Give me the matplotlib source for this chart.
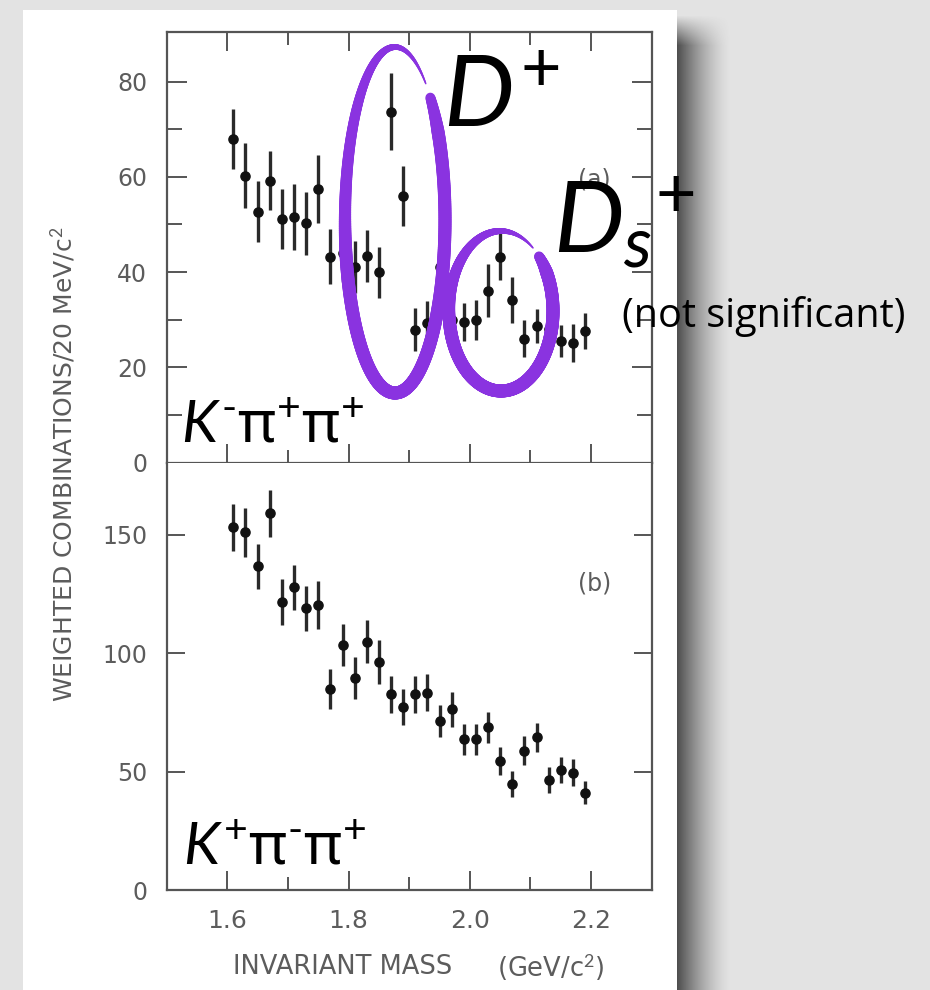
import numpy as np
import matplotlib.pyplot as plt
from matplotlib.patches import Rectangle
from matplotlib.collections import LineCollection

plt.rcParams['mathtext.fontset'] = 'custom'
plt.rcParams['mathtext.rm'] = 'Lato'
plt.rcParams['mathtext.it'] = 'Lato:italic'
plt.rcParams['mathtext.sf'] = 'Noto Sans'

# bin centres, 20 MeV bins (GeV/c^2)
mass = [1.61, 1.63, 1.65, 1.67, 1.69, 1.71, 1.73, 1.75, 1.77, 1.79,
        1.81, 1.83, 1.85, 1.87, 1.89, 1.91, 1.93, 1.95, 1.97, 1.99,
        2.01, 2.03, 2.05, 2.07, 2.09, 2.11, 2.13, 2.15, 2.17, 2.19]

# (a) K- pi+ pi+
top_counts = [68.0, 60.2, 52.7, 59.2, 51.1, 51.6, 50.2, 57.4, 43.2, 44.0,
              41.1, 43.4, 39.9, 73.7, 55.9, 27.9, 29.2, 41.1, 30.0, 29.5,
              29.9, 36.1, 43.2, 34.1, 26.0, 28.7, 28.0, 25.5, 25.1, 27.6]
top_err = [6.3, 6.8, 6.4, 6.2, 6.3, 6.9, 6.6, 7.1, 5.8, 6.0,
           5.5, 5.5, 5.4, 8.0, 6.3, 4.5, 4.8, 4.9, 5.0, 4.0,
           4.2, 5.5, 4.9, 4.9, 3.9, 3.6, 4.0, 3.4, 3.9, 3.8]

# (b) K+ pi- pi+
bottom_counts = [153.0, 150.9, 136.7, 158.9, 121.6, 127.7, 118.8, 120.3, 84.8, 103.4,
                 89.6, 104.8, 96.3, 82.6, 77.3, 82.6, 83.3, 71.4, 76.2, 63.6,
                 63.6, 68.6, 54.6, 44.7, 58.8, 64.4, 46.4, 50.6, 49.5, 41.1]
bottom_err = [10.1, 10.2, 9.5, 9.8, 9.6, 9.4, 9.5, 10.0, 8.3, 9.0,
              8.9, 9.1, 9.4, 7.7, 7.7, 7.9, 7.9, 6.7, 7.4, 6.6,
              6.6, 6.7, 5.9, 5.6, 6.0, 6.0, 5.6, 5.6, 5.6, 4.9]

x_major = [1.6, 1.8, 2.0, 2.2]
x_minor = [1.7, 1.9, 2.1]
x_labels = ['1.6', '1.8', '2.0', '2.2']

grey = '#5c5c5c'
purple = '#8a33e0'

fig = plt.figure(figsize=(9.3, 9.9), dpi=100)
fig.patch.set_facecolor('#e3e3e3')

# background: the "paper" and its shadow, in pixel coords
bg = fig.add_axes([0, 0, 1, 1], zorder=0)
gx = np.linspace(1, 0, 55) ** 1.5
gy = np.clip(np.linspace(0, 1, 975) * 975 / 30, 0, 1)
sh = np.zeros((975, 55, 4))
sh[..., :3] = 0.2
sh[..., 3] = 0.85 * gy[:, None] * gx[None, :]
bg.imshow(sh, extent=(677, 732, 990, 15), aspect='auto', interpolation='bilinear')
bg.add_patch(Rectangle((23, 10), 654, 990, facecolor='white', edgecolor='none', zorder=3))
bg.set_xlim(0, 930)
bg.set_ylim(990, 0)
bg.axis('off')

ax1 = fig.add_axes([0.1792, 0.5328, 0.5216, 0.4349], zorder=1)
ax2 = fig.add_axes([0.1792, 0.1010, 0.5216, 0.4318], zorder=1)

for ax, y, e in [(ax1, top_counts, top_err), (ax2, bottom_counts, bottom_err)]:
    ax.errorbar(mass, y, yerr=e, fmt='o', color='#111111', ms=6.6,
                ecolor='#2a2a2a', elinewidth=2.4, capsize=0)
    ax.set_xlim(1.5, 2.3)
    ax.set_xticks(x_major)
    ax.set_xticks(x_minor, minor=True)
    for s in ax.spines.values():
        s.set_color('#555555')
        s.set_linewidth(1.6)
    ax.tick_params(which='both', direction='in', color='#555555', width=1.4,
                   labelsize=17, labelcolor=grey)
    ax.tick_params(axis='x', which='major', length=13.5)
    ax.tick_params(axis='x', which='minor', length=9.5)
    ax.tick_params(axis='y', which='both', left=True, right=True, pad=14)

ax1.set_ylim(0, 90.4)
ax1.set_yticks([0, 20, 40, 60, 80])
ax1.set_yticks([10, 30, 50, 70], minor=True)
ax1.tick_params(axis='y', which='major', length=14.4)
ax1.tick_params(axis='y', which='minor', length=10.8)
ax1.tick_params(axis='x', which='both', top=True, bottom=True, labelbottom=False)
ax1.text(2.205, 59.5, '(a)', fontsize=17, color=grey, ha='center', va='center')

ax2.set_ylim(0, 180.4)
ax2.set_yticks([0, 50, 100, 150])
ax2.tick_params(axis='y', which='major', length=13)
ax2.tick_params(axis='x', which='both', top=False, bottom=True, pad=14, labelsize=18)
ax2.set_xticklabels(x_labels)
ax2.spines['top'].set_visible(False)
ax2.text(2.205, 129.5, '(b)', fontsize=17, color=grey, ha='center', va='center')

fig.text(63 / 930, 1 - 464 / 990, 'WEIGHTED COMBINATIONS/20 MeV/c$^2$', rotation=90,
         ha='center', va='center', fontsize=18, color=grey)
fig.text(233 / 930, 1 - 967 / 990, 'INVARIANT MASS', ha='left', va='center',
         fontsize=18.5, color=grey)
fig.text(497 / 930, 1 - 967 / 990, '(GeV/c$^2$)', ha='left', va='center',
         fontsize=18.5, color=grey)

# annotation layer, pixel coords
ov = fig.add_axes([0, 0, 1, 1], zorder=5)
ov.set_xlim(0, 930)
ov.set_ylim(990, 0)
ov.axis('off')
ov.patch.set_alpha(0)


def pen_loop(ax, cx, cy, rx, ry, a0, a1):
    t = np.radians(np.linspace(a0, a1, 600))
    x = cx + rx * np.cos(t)
    y = cy - ry * np.sin(t)
    pts = np.column_stack([x, y]).reshape(-1, 1, 2)
    segs = np.concatenate([pts[:-1], pts[1:]], axis=1)
    f = np.linspace(0, 1, len(segs))
    w = np.interp(f, [0, 0.04, 0.6, 0.75, 0.89, 1.0], [10, 13, 13, 10, 6, 1.5])
    ax.add_collection(LineCollection(segs, linewidths=w * 0.72, colors=purple,
                                     capstyle='round'))


pen_loop(ov, 395, 220, 50, 173, 45, 52 - 360)
pen_loop(ov, 501, 311, 52, 80, 43, 52 - 360)

ov.text(443, 127, r'$\mathit{D}^{+}$', fontsize=72, color='black', ha='left', va='baseline')
ov.text(553, 253, r'$\mathit{D}_{\mathit{s}}{}^{+}$', fontsize=72, color='black',
        ha='left', va='baseline')
ov.text(622, 327, '(not significant)', fontsize=28.5, family=['Open Sans', 'DejaVu Sans'],
        color='black', ha='left', va='baseline')
ov.text(181, 442, r'$\mathit{K}^{\text{-}}\mathsf{π}^{+}\mathsf{π}^{+}$', fontsize=42,
        color='black', ha='left', va='baseline')
ov.text(183, 864, r'$\mathit{K}^{+}\mathsf{π}^{\text{-}}\mathsf{π}^{+}$', fontsize=42,
        color='black', ha='left', va='baseline')

fig.savefig('out.png', dpi=100)
